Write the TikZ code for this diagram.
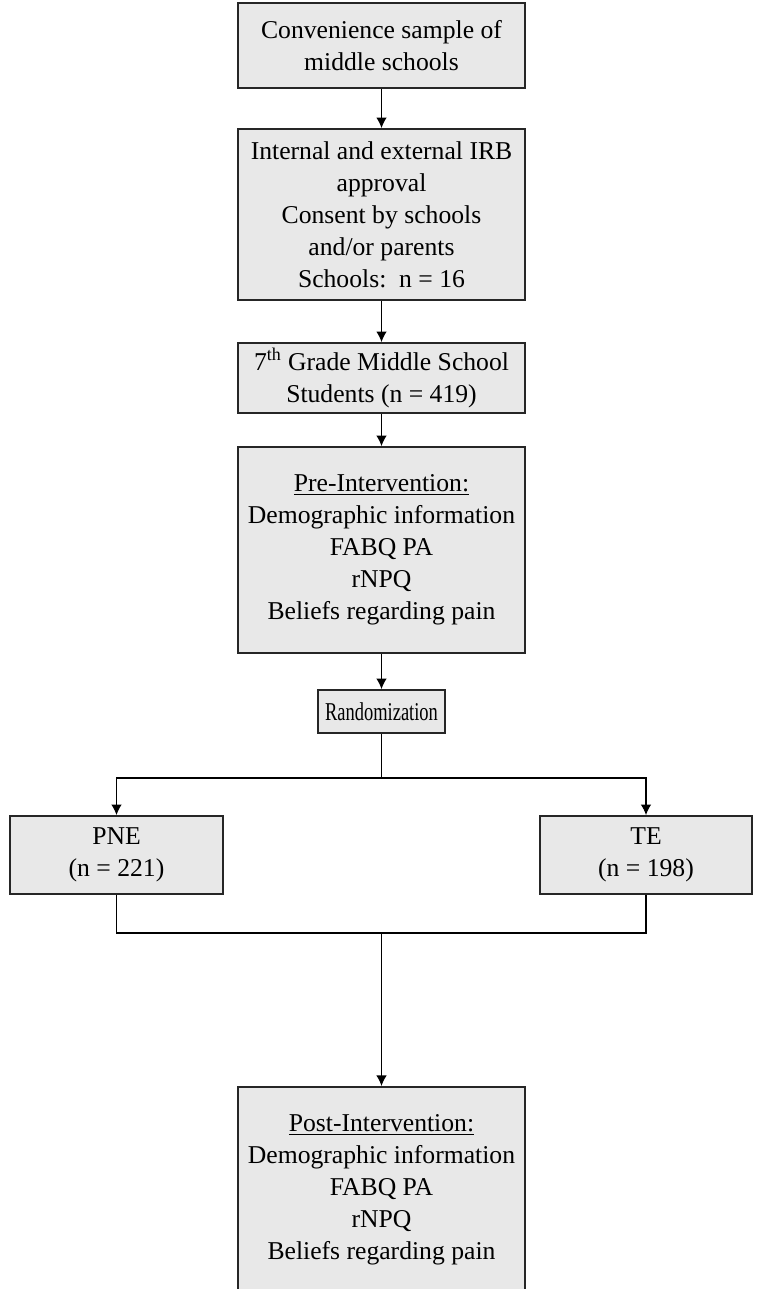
\documentclass[tikz,border=0pt]{standalone}
\usepackage{fontspec}
\setmainfont{Liberation Serif}
\usetikzlibrary{arrows.meta}

\tikzset{
  box/.style={draw=black!85, line width=1pt, fill=gray!18, align=center, minimum width=5.74cm, inner sep=2pt},
  arr/.style={-{Latex[length=6pt,width=6pt]}, line width=0.7pt},
  conn/.style={line width=0.7pt}
}

\begin{document}
\begin{tikzpicture}[font=\fontsize{14.6}{18.2}\selectfont]
  \useasboundingbox (0,0) rectangle (15.26,25.78);

  % boxes
  \node[box, minimum height=1.70cm] (conv) at (7.63,24.87){Convenience sample of\\middle schools};
  \node[box, minimum height=3.42cm] (irb) at (7.63,21.49){Internal and external IRB\\approval\\Consent by schools\\and/or parents\\Schools:\ \ n = 16};
  \node[box, minimum height=1.40cm] (grade) at (7.63,18.22){7\textsuperscript{th} Grade Middle School\\Students (n = 419)};
  \node[box, minimum height=4.12cm] (pre) at (7.63,14.78){\underline{Pre-Intervention:}\\Demographic information\\FABQ PA\\rNPQ\\Beliefs regarding pain};
  \node[box, minimum width=2.54cm, minimum height=0.86cm] (rand) at (7.63,11.55){\scalebox{0.72}[1]{Randomization}};

  % groups
  \node[box, minimum width=4.26cm, minimum height=1.56cm] (pne) at (2.33,8.68){PNE\\(n = 221)};
  \node[box, minimum width=4.24cm, minimum height=1.56cm] (te) at (12.92,8.68){TE\\(n = 198)};

  % last box, its lower edge just below the page
  \node[box, minimum height=4.12cm, anchor=north] (post) at (7.63,4.06){\underline{Post-Intervention:}\\Demographic information\\FABQ PA\\rNPQ\\Beliefs regarding pain};

  % arrows
  \draw[arr] (conv) -- (irb);
  \draw[arr] (irb) -- (grade);
  \draw[arr] (grade) -- (pre);
  \draw[arr] (pre) -- (rand);

  % split
  \coordinate (split) at (7.63,10.22);
  \draw[conn] (rand) -- (split);
  \draw[arr] (split) -| (pne.north);
  \draw[arr] (split) -| (te.north);

  % merge
  \coordinate (merge) at (7.63,7.12);
  \draw[conn] (pne.south) |- (merge);
  \draw[conn] (te.south) |- (merge);
  \draw[arr] (merge) -- (post);
\end{tikzpicture}
\end{document}
